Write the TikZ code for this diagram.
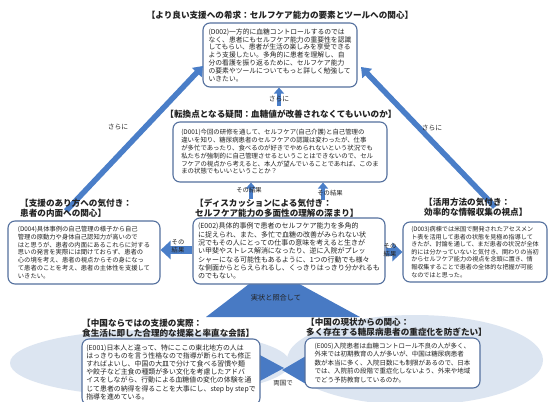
\documentclass[tikz,border=0pt]{standalone}
\usepackage{fontspec}
\newfontfamily\jp{Noto Sans CJK JP}
\usetikzlibrary{arrows.meta}
\definecolor{arrowblue}{RGB}{74,126,200}
\definecolor{darkblue}{RGB}{72,122,196}
\definecolor{paleblue}{RGB}{220,229,241}
\definecolor{boxline}{RGB}{84,112,158}
\definecolor{txt}{RGB}{35,35,35}
\begin{document}
\begin{tikzpicture}[x=1pt,y=-1pt,
  box/.style={draw=boxline,line width=1.1pt,rounded corners=7pt,fill=white,inner sep=0pt,align=left,text=txt},
  ttl/.style={font=\jp\bfseries\fontsize{8.6}{10}\selectfont,align=left,inner sep=0pt,text=txt},
  lbl/.style={font=\jp\fontsize{6.3}{7}\selectfont,inner sep=0pt,text=txt},
  bigarr/.style={draw=arrowblue,line width=5.5pt,-{Triangle[length=9pt,width=13pt]}},
  smallarr/.style={draw=arrowblue,line width=4.5pt,-{Triangle[length=6pt,width=10pt]}},
  sidearr/.style={draw=arrowblue,line width=8pt,-{Triangle[length=10pt,width=18pt]}}]
\useasboundingbox[fill=white] (0,0) rectangle (550,402);

% background shapes
\fill[darkblue] (270,268) -- (206,317) -- (360,317) -- cycle;
\fill[paleblue] (150,363) ellipse [x radius=140, y radius=33];
\fill[paleblue] (415,360) ellipse [x radius=128, y radius=45];
\fill[darkblue] (258,354) -- (284,368) -- (258,382) -- cycle;
\fill[darkblue] (306,356) -- (282,370) -- (306,384) -- cycle;

% boxes
\node[box,minimum width=154pt,minimum height=64pt,font=\jp\fontsize{6.8}{7.8}\selectfont] (d002) at (280,55) {%
(D002)一方的に血糖コントロールするのでは\\
なく、患者にもセルフケア能力の重要性を認識\\
してもらい、患者が生活の楽しみを享受できる\\
よう支援したい。多角的に患者を理解し、自\\
分の看護を振り返るために、セルフケア能力\\
の要素やツールについてもっと詳しく勉強して\\
いきたい。};

\node[box,minimum width=214pt,minimum height=60pt,font=\jp\fontsize{6.4}{7.8}\selectfont] (d001) at (280,152) {%
(D001)今回の研修を通して、セルフケア(自己介護)と自己管理の\\
違いを知り、糖尿病患者のセルフケアの認識は変わったが、仕事\\
が多忙であったり、食べるのが好きでやめられないという状況でも\\
私たちが強制的に自己管理させるということはできないので、セル\\
フケアの視点から考えると、本人が望んでいることであれば、このま\\
まの状態でもいいということか？};

\node[box,minimum width=192pt,minimum height=66pt,font=\jp\fontsize{7.0}{8.3}\selectfont] (e002) at (289,251) {%
(E002)具体的事例で患者のセルフケア能力を多角的\\
に捉えられ、また、多忙で血糖の改善がみられない状\\
況でもその人にとっての仕事の意味を考えると生きが\\
い甲斐やストレス解消になったり、逆に入院がプレッ\\
シャーになる可能性もあるように、1つの行動でも様々\\
な側面からとらえられるし、くっきりはっきり分かれるも\\
のでもない。};

\node[box,minimum width=152pt,minimum height=63pt,font=\jp\fontsize{6.3}{7.8}\selectfont] (d004) at (84,252.5) {%
(D004)具体事例の自己管理の様子から自己\\
管理の原動力や身体自己認知力が高いので\\
はと思うが、患者の内面にあるこれらに対する\\
思いの発言を実際には聞けておらず、患者の\\
心の境を考え、患者の視点からその身になっ\\
て患者のことを考え、患者の主体性を支援して\\
いきたい。};

\node[box,minimum width=144pt,minimum height=60pt,font=\jp\fontsize{6.1}{7.6}\selectfont] (d003) at (475,252) {%
(D003)病棟では米国で開発されたアセスメン\\
ト表を活用して患者の状態を見極め指導して\\
きたが、討論を通して、まだ患者の状況が全体\\
的には分かっていないと気付き、関わりの当初\\
からセルフケア能力の視点を念頭に置き、情\\
報収集することで患者の全体的な把握が可能\\
なのではと思った。};

\node[box,minimum width=178pt,minimum height=66pt,font=\jp\fontsize{6.9}{8.2}\selectfont] (e001) at (171,372) {%
(E001)日本人と違って、特にここの東北地方の人は\\
はっきりものを言う性格なので指導が断られても修正\\
すればよいし、中国の大皿で分けて食べる習慣や麺\\
や餃子など主食の種類が多い文化を考慮したアドバ\\
イスをしながら、行動による血糖値の変化の体験を通\\
じて患者の納得を得ることを大事にし、step by stepで\\
指導を進めている。};

\node[box,minimum width=175pt,minimum height=50pt,font=\jp\fontsize{6.5}{8.5}\selectfont] (e005) at (392.5,363) {%
(E005)入院患者は血糖コントロール不良の人が多く、\\
外来では初期教育の人が多いが、中国は糖尿病患者\\
数が本当に多く、入院日数にも制限があるので、日本\\
では、入院前の段階で重症化しないよう、外来や地域\\
でどう予防教育しているのか。};

% connector end points
\coordinate (ls) at (66,211);
\coordinate (lt) at (203,66);
\coordinate (rs) at (495,207);
\coordinate (rt) at (361,67);
\coordinate (cs) at (279,106);
\coordinate (v1) at (251,199);
\coordinate (v2) at (323,200);

% arrows
\draw[bigarr] (ls) -- (lt);
\draw[bigarr] (rs) -- (rt);
\draw[smallarr] (cs) -- (cs |- d002.south);
\draw[smallarr] (v1) -- (v1 |- d001.south);
\draw[smallarr] (v2) -- (v2 |- d001.south);
\draw[sidearr] (e002.west |- 0,250) -- (d004.east |- 0,250);
\draw[sidearr] (e002.east |- 0,252) -- (d003.west |- 0,252);

% titles
\node[ttl] (t1) at (280,15) {【より良い支援への希求：セルフケア能力の要素とツールへの関心】};
\node[ttl] (t2) at (281,114) {【転換点となる疑問：血糖値が改善されなくてもいいのか】};
\node[ttl,anchor=west] (t3) at (195,208) {【ディスカッションによる気付き：\\セルフケア能力の多面性の理解の深まり】};
\node[ttl,anchor=west] (t4) at (20,208) {【支援のあり方への気付き：\\患者の内面への関心】};
\node[ttl,anchor=west] (t5) at (424,207) {【活用方法の気付き：\\効率的な情報収集の視点】};
\node[ttl,anchor=west] (t6) at (82,328) {【中国ならではの支援の実際：\\食生活に即した合理的な提案と率直な会話】};
\node[ttl,anchor=west] (t7) at (306,327) {【中国の現状からの関心：\\多く存在する糖尿病患者の重症化を防ぎたい】};

% labels
\node[lbl,font=\jp\fontsize{6.8}{8}\selectfont] (s1) at (118,127) {さらに};
\node[lbl,font=\jp\fontsize{6.8}{8}\selectfont] (s2) at (432,128) {さらに};
\node[lbl,font=\jp\fontsize{6.8}{8}\selectfont] (s3) at (279,99) {さらに};
\node[lbl] (k1) at (249,190) {その結果};
\node[lbl] (k2) at (330,193) {その結果};
\node[lbl] (k3a) at (178,242) {その};
\node[lbl] (k3b) at (178,250) {結果};
\node[lbl] (k4a) at (390,246) {その};
\node[lbl] (k4b) at (390,254) {結果};
\node[lbl,font=\jp\fontsize{7.2}{8}\selectfont] (jj) at (276,298) {実状と照合して};
\node[lbl,font=\jp\fontsize{6.5}{8}\selectfont] (ry) at (283,383) {両国で};
\end{tikzpicture}
\end{document}
